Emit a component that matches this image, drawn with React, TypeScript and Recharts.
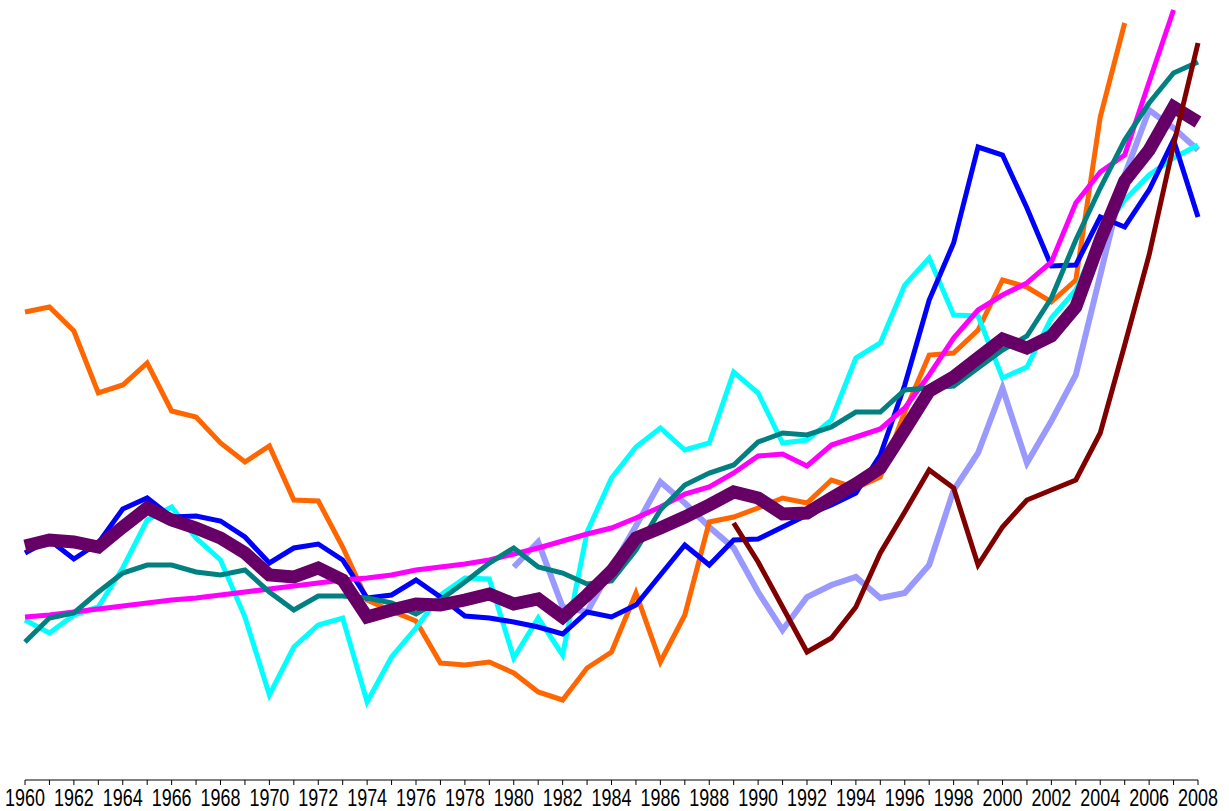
import { LineChart, Line, XAxis, YAxis } from "recharts";

const years = [
  1960, 1961, 1962, 1963, 1964, 1965, 1966, 1967, 1968, 1969,
  1970, 1971, 1972, 1973, 1974, 1975, 1976, 1977, 1978, 1979,
  1980, 1981, 1982, 1983, 1984, 1985, 1986, 1987, 1988, 1989,
  1990, 1991, 1992, 1993, 1994, 1995, 1996, 1997, 1998, 1999,
  2000, 2001, 2002, 2003, 2004, 2005, 2006, 2007, 2008,
];

// values (no scale shown), one per year
const orange = [
  468, 473, 449, 387, 395, 417, 369, 363, 337, 318,
  334, 280, 279, 233, 180, 169, 159, 117, 115, 118,
  107, 88, 80, 112, 128, 187, 118, 165, 258, 263,
  272, 282, 277, 300, 292, 303, 368, 425, 427, 450,
  500, 493, 478, 500, 663, 757, null, null, null,
];
const blue = [
  227, 240, 221, 237, 271, 282, 263, 264, 259, 243,
  217, 232, 236, 220, 182, 185, 200, 183, 164, 162,
  158, 153, 146, 168, 163, 175, 205, 235, 215, 240,
  241, 253, 265, 275, 287, 325, 395, 480, 537, 633,
  625, 572, 514, 515, 563, 553, 590, 640, 563,
];
const cyan = [
  160, 147, 165, 173, 212, 260, 273, 242, 220, 163,
  85, 133, 155, 162, 78, 123, 152, 185, 202, 201,
  122, 162, 125, 248, 302, 333, 352, 330, 337, 408,
  387, 337, 340, 360, 422, 437, 495, 522, 465, 464,
  402, 413, 462, 490, 545, 580, 605, 622, 635,
];
const teal = [
  138, 162, 167, 188, 207, 215, 215, 208, 205, 210,
  188, 170, 184, 184, 182, 177, 166, 180, 198, 217,
  232, 213, 207, 196, 199, 230, 270, 295, 307, 315,
  338, 347, 345, 353, 368, 368, 390, 392, 394, 412,
  430, 444, 482, 540, 592, 640, 677, 707, 718,
];
const magenta = [
  163, 165, 168, 171, 174, 177, 180, 182, 185, 188,
  191, 194, 197, 200, 202, 205, 210, 213, 216, 220,
  226, 232, 239, 246, 252, 262, 273, 286, 293, 307,
  324, 326, 314, 335, 343, 351, 372, 405, 442, 470,
  485, 497, 518, 577, 608, 625, 698, 770, null,
];
const lavender = [
  null, null, null, null, null, null, null, null, null, null,
  null, null, null, null, null, null, null, null, null, null,
  213, 238, 173, 168, 212, 254, 298, 277, 253, 232,
  188, 150, 183, 195, 203, 182, 187, 215, 290, 327,
  392, 317, 359, 405, 505, 605, 670, 652, 630,
];
const maroon = [
  null, null, null, null, null, null, null, null, null, null,
  null, null, null, null, null, null, null, null, null, null,
  null, null, null, null, null, null, null, null, null, 257,
  218, 173, 128, 142, 173, 227, 268, 310, 292, 215,
  253, 280, 290, 300, 347, 435, 525, 635, 737,
];
const average = [
  234, 240, 238, 233, 253, 272, 260, 252, 242, 227,
  205, 203, 212, 200, 163, 170, 176, 175, 180, 186,
  176, 181, 163, 185, 209, 242, 252, 263, 275, 288,
  282, 266, 267, 282, 296, 312, 350, 389, 403, 422,
  441, 432, 444, 473, 540, 599, 630, 673, 658,
];

const data = years.map((year, i) => ({
  year,
  orange: orange[i],
  blue: blue[i],
  cyan: cyan[i],
  teal: teal[i],
  magenta: magenta[i],
  lavender: lavender[i],
  maroon: maroon[i],
  average: average[i],
}));

// label only every other year, tick mark on every year
const YearTick = (props: any) => {
  const { x, y, payload } = props;
  if (payload.value % 2 !== 0) return <g />;
  return (
    <text
      transform={`translate(${x},${y}) scale(0.78,1)`}
      dy={19}
      textAnchor="middle"
      fill="#000"
      fontSize={23}
      fontFamily="'Liberation Sans', Arial, sans-serif"
    >
      {payload.value}
    </text>
  );
};

export default function App() {
  return (
    <div style={{ position: "absolute", left: 0, top: 0, width: 1229, height: 811, background: "#fff" }}>
      <LineChart width={1229} height={811} data={data} margin={{ top: 0, right: 31, bottom: 0, left: 25 }}>
        <XAxis
          dataKey="year"
          type="number"
          domain={[1960, 2008]}
          ticks={years}
          interval={0}
          tick={<YearTick />}
          tickSize={5}
          height={31}
          axisLine={{ stroke: "#000" }}
          tickLine={{ stroke: "#000" }}
        />
        <YAxis hide domain={[0, 780]} />

        <Line type="linear" dataKey="lavender" stroke="#9999FF" strokeWidth={6} dot={false} isAnimationActive={false} />
        <Line type="linear" dataKey="orange" stroke="#FF6600" strokeWidth={5} dot={false} isAnimationActive={false} />
        <Line type="linear" dataKey="cyan" stroke="#00FFFF" strokeWidth={5} dot={false} isAnimationActive={false} />
        <Line type="linear" dataKey="blue" stroke="#0000FF" strokeWidth={5} dot={false} isAnimationActive={false} />
        <Line type="linear" dataKey="magenta" stroke="#FF00FF" strokeWidth={5} dot={false} isAnimationActive={false} />
        <Line type="linear" dataKey="teal" stroke="#008080" strokeWidth={5} dot={false} isAnimationActive={false} />
        <Line type="linear" dataKey="average" stroke="#660066" strokeWidth={13} dot={false} isAnimationActive={false} />
        <Line type="linear" dataKey="maroon" stroke="#800000" strokeWidth={5} dot={false} isAnimationActive={false} />
      </LineChart>
    </div>
  );
}
